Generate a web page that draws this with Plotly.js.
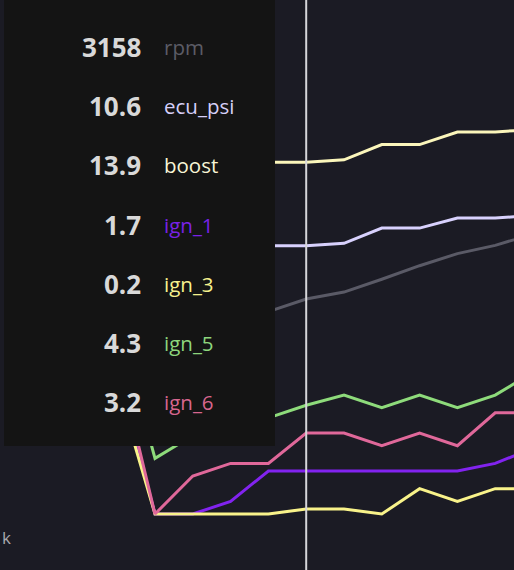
<!DOCTYPE html>
<html>
<head>
<meta charset="utf-8">
<script src="https://cdn.plot.ly/plotly-3.0.1.min.js"></script>
<style>html,body{margin:0;padding:0;background:#1b1b24;}#chart{width:514px;height:570px;}</style>
</head>
<body>
<div id="chart"></div>
<script>
// sample index (time step)
const samples = [-1, 0, 1, 2, 3, 4, 5, 6, 7, 8, 9, 10];
const cursorIndex = 4;

const rpm     = [2400, 2550, 2700, 2850, 2990, 3158, 3250, 3420, 3600, 3760, 3870, 4020];
const ecu_psi = [9.9, 10.2, 10.4, 10.5, 10.6, 10.6, 10.7, 11.3, 11.3, 11.7, 11.7, 11.8];
const boost   = [13.0, 13.4, 13.6, 13.8, 13.9, 13.9, 14.0, 14.6, 14.6, 15.1, 15.1, 15.2];
const ign_1   = [5.6, 0, 0, 0.5, 1.7, 1.7, 1.7, 1.7, 1.7, 1.7, 2.0, 2.6];
const ign_3   = [5.1, 0, 0, 0, 0, 0.2, 0.2, 0, 1.0, 0.5, 1.0, 1.0];
const ign_5   = [7.7, 2.2, 3.1, 3.5, 3.8, 4.3, 4.7, 4.2, 4.7, 4.2, 4.7, 5.6];
const ign_6   = [6.2, 0, 1.5, 2.0, 2.0, 3.2, 3.2, 2.7, 3.2, 2.7, 4.0, 4.0];

const seriesNames = ["rpm", "ecu_psi", "boost", "ign_1", "ign_3", "ign_5", "ign_6"];
const seriesData  = [rpm, ecu_psi, boost, ign_1, ign_3, ign_5, ign_6];
const lineColors  = ["#5a5a66", "#d8d1fd", "#fbf6bb", "#8223ef", "#f9f38a", "#8edb7b", "#e0689a"];
const labelColors = ["#5c5c66", "#d6cff8", "#f8f5d6", "#7a22e6", "#f6f18e", "#8ed67d", "#d8668f"];

const W = 514, H = 570;
const cursorPos = samples.indexOf(cursorIndex);

const traces = seriesNames.map((name, k) => ({
  type: "scatter",
  mode: "lines",
  name: name,
  x: samples,
  y: seriesData[k],
  yaxis: name === "rpm" ? "y2" : "y",
  line: {color: lineColors[k], width: 3},
  hoverinfo: "skip"
}));

const rowTop = 47, rowStep = 59.2;
const annotations = [];
seriesNames.forEach((name, k) => {
  const v = seriesData[k][cursorPos];
  const yy = 1 - (rowTop + k * rowStep) / H;
  annotations.push({
    xref: "paper", yref: "paper", x: 143 / W, y: yy,
    xanchor: "right", yanchor: "middle", showarrow: false,
    text: "<b>" + (name === "rpm" ? String(v) : v.toFixed(1)) + "</b>",
    font: {family: "Open Sans", size: 26, color: "#d9d9d9"}
  });
  annotations.push({
    xref: "paper", yref: "paper", x: 162 / W, y: yy,
    xanchor: "left", yanchor: "middle", showarrow: false,
    text: name,
    font: {family: "Open Sans", size: 20.5, color: labelColors[k]}
  });
});
annotations.push({
  xref: "paper", yref: "paper", x: 0, y: 1 - 537 / H,
  xanchor: "left", yanchor: "middle", showarrow: false,
  text: "k", font: {family: "Open Sans", size: 17, color: "#a9a9ad"}
});

const layout = {
  width: W, height: H,
  margin: {l: 0, r: 0, t: 0, b: 0, pad: 0},
  paper_bgcolor: "#1b1b24",
  plot_bgcolor: "#1b1b24",
  showlegend: false,
  xaxis: {range: [-155 / 37.8, (W - 155) / 37.8], visible: false, showgrid: false, zeroline: false},
  yaxis: {range: [-(H - 514) / 25.3, 514 / 25.3], visible: false, showgrid: false, zeroline: false},
  yaxis2: {range: [-(H - 537) / 0.07536, 537 / 0.07536], overlaying: "y", visible: false, showgrid: false, zeroline: false},
  shapes: [
    {type: "rect", xref: "paper", yref: "paper", x0: 4 / W, x1: 275 / W, y0: 1 - 446 / H, y1: 1,
     fillcolor: "#141414", line: {width: 0}, layer: "above"},
    {type: "line", xref: "x", yref: "paper", x0: cursorIndex, x1: cursorIndex, y0: 0, y1: 1,
     line: {color: "#d6d6da", width: 2}, layer: "above"}
  ],
  annotations: annotations
};

Plotly.newPlot("chart", traces, layout, {displayModeBar: false, staticPlot: true});
</script>
</body>
</html>
